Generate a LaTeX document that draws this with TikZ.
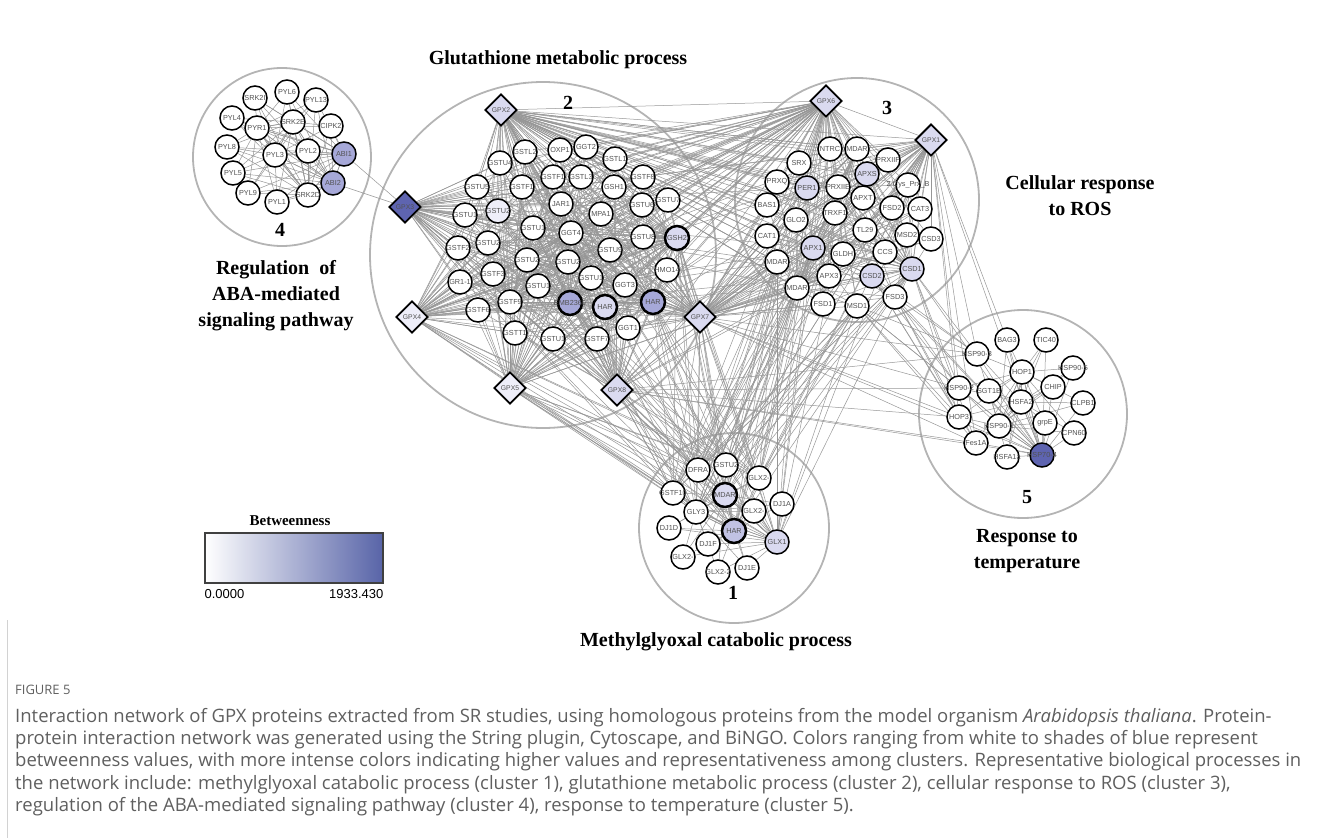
\documentclass[tikz,border=0pt]{standalone}
\usepackage{fontspec}
\setmainfont{Liberation Serif}
\newfontfamily\labelfont{Liberation Sans}
\newfontfamily\captionfont{Open Sans}
\usetikzlibrary{shapes.geometric}
\definecolor{bwdark}{RGB}{94,100,176}
\definecolor{bwmid}{RGB}{166,168,216}
\definecolor{bwlight}{RGB}{218,218,240}
\definecolor{bwpale}{RGB}{238,238,249}
\definecolor{bwbar}{RGB}{88,100,168}
\definecolor{edgegray}{RGB}{150,150,150}
\definecolor{ringgray}{RGB}{180,180,180}
\definecolor{captiongray}{RGB}{95,95,95}

\pgfdeclarelayer{bg}
\pgfsetlayers{bg,main}

% label that does not widen its circle
\newcommand{\ptext}[1]{\makebox[0pt]{#1}}

\tikzset{
  prot/.style={circle, draw=black, line width=1.5pt, fill=white, minimum size=24pt,
    inner sep=0pt, font=\labelfont\fontsize{7.3}{8}\selectfont, text=black!68},
  hub/.style={line width=2.5pt},
  gpx/.style={diamond, draw=black, line width=1.9pt, fill=white, minimum width=32pt,
    minimum height=32pt, inner sep=0pt, font=\labelfont\fontsize{6.8}{8}\selectfont, text=black!68},
  ring/.style={draw=ringgray, line width=1.8pt},
  link/.style={draw=edgegray, line width=0.5pt},
  title/.style={font=\bfseries\fontsize{20}{26}\selectfont, align=center},
  num/.style={font=\bfseries\fontsize{20}{24}\selectfont},
  capline/.style={anchor=base west, inner sep=0pt, font=\captionfont\fontsize{18.5}{22}\selectfont, text=captiongray}
}

\begin{document}
\begin{tikzpicture}[x=1pt,y=-1pt]
\useasboundingbox (0,0) rectangle (1320,838);

% Node lists per cluster
\def\cfour{srk2i,pyl6,pyl13,pyl4,pyr1,srk2e,cipk,pyl8,pyl3,pyl2,abi1,pyl5,abi2,pyl9,pyl1,srk2d}
\def\ctwo{gstl2,oxp1,ggt2,gstl1,gstu4,gstf1a,gstl3,gstf8,gstu5,gstf1b,gsh1,jar1,gstu6,gstu7,mpa1,gstu1a,gstu2a,gstu1b,ggt4,gstu8,gsh2,gstf2,gstu2b,gstu9,gstu2c,gstu2d,gr1,gstf3,hmo14,gstu1c,gstu1d,ggt3,gstf6,gstf9,emb,har1,har2,gstt1,gstu1e,gstf7,ggt1}
\def\cthree{ntrc,mdar1,srx,prxiif,prxq,per1,prxiie,apxs,cys,apxt,bas1,trxf1,fsd2,cat3,glo2,tl29,msd2,csd3,cat1,apx1,gldh,ccs,csd1,mdar2,apx3,csd2,mdar3,fsd1,msd1,fsd3}
\def\cone{dfra,gstu2e,glx2a,gstf10,mdar4,dj1a,gly3,glx2b,dj1d,ghar,glx1,dj1f,glx2c,glx2d,dj1e}
\def\cfive{bag3,tic40,hsp903,hop1,hsp905,hsp902,sgt1b,chip,hsfa2,clpb1,hop3,hsp901,grpe,cpn60,fes1a,hsfa1a,hsp70}
\def\gpxset{gpx2,gpx3,gpx4,gpx5,gpx7,gpx8}

% Cluster 4
\foreach \n/\x/\y/\t in {srk2i/255/98/SRK2I, pyl6/287/92/PYL6, pyl13/316/100/PYL13,
  pyl4/232/118/PYL4, pyr1/257/128/PYR1, srk2e/293/122/SRK2E, cipk/331/126/CIPK2,
  pyl8/227/147/PYL8, pyl3/275/155/PYL3, pyl2/308/151/PYL2, pyl5/233/173/PYL5,
  pyl9/248/193/PYL9, pyl1/277/202/PYL1, srk2d/308/195/SRK2D}
  \node[prot] (\n) at (\x,\y) {\ptext{\t}};
\node[prot, fill=bwmid] (abi1) at (344,154) {ABI1};
\node[prot, fill=bwmid] (abi2) at (333,183) {ABI2};
\node[num] (num4) at (280,230) {4};

% Cluster 2
\node[gpx, fill=bwlight] (gpx2) at (501,110) {GPX2};
\node[gpx, fill=bwdark] (gpx3) at (405,207) {GPX3};
\node[gpx, fill=bwpale] (gpx4) at (412,317) {GPX4};
\node[gpx, fill=bwlight] (gpx7) at (700,317) {GPX7};
\node[gpx, fill=bwpale] (gpx5) at (510,388) {GPX5};
\node[gpx, fill=bwlight] (gpx8) at (617,390) {GPX8};
\foreach \n/\x/\y/\t in {gstl2/525/152/GSTL2, oxp1/560/150/OXP1, ggt2/586/147/GGT2,
  gstl1/615/159/GSTL1, gstu4/500/163/GSTU4, gstf1a/553/177/GSTF1, gstl3/581/177/GSTL3,
  gstf8/643/177/GSTF8, gstu5/477/187/GSTU5, gstf1b/522/187/GSTF1, gsh1/614/187/GSH1,
  jar1/561/204/JAR1, gstu6/642/205/GSTU6, gstu7/668/200/GSTU7, mpa1/601/214/MPA1,
  gstu1a/465/215/GSTU1, gstu1b/533/228/GSTU1, ggt4/571/233/GGT4, gstu8/643/237/GSTU8,
  gstf2/458/248/GSTF2, gstu2b/488/243/GSTU2, gstu9/610/250/GSTU9, gstu2c/527/260/GSTU2,
  gstu2d/568/262/GSTU2, gr1/460/282/GR1-1, gstf3/493/274/GSTF3, hmo14/667/270/HMO14,
  gstu1c/538/286/GSTU1, gstu1d/591/278/GSTU1, ggt3/625/285/GGT3, gstf6/478/310/GSTF6,
  gstf9/510/302/GSTF9, gstt1/515/333/GSTT1, gstu1e/553/339/GSTU1, gstf7/597/339/GSTF7,
  ggt1/628/328/GGT1}
  \node[prot] (\n) at (\x,\y) {\ptext{\t}};
\node[prot, fill=bwpale] (gstu2a) at (498,211) {\ptext{GSTU2}};
\node[prot, hub, fill=bwlight] (gsh2) at (677,238) {GSH2};
\node[prot, hub, fill=bwmid] (emb) at (570,303) {\ptext{EMB2360}};
\node[prot, hub, fill=bwlight] (har1) at (605,307) {HAR};
\node[prot, hub, fill=bwmid] (har2) at (653,302) {HAR};
\node[num] (num2) at (568,103) {2};

% Cluster 3
\node[gpx, fill=bwlight] (gpx6) at (826,101) {GPX6};
\node[gpx, fill=bwlight] (gpx1) at (931,140) {GPX1};
\foreach \n/\x/\y/\t in {ntrc/830/149/NTRC, mdar1/857/149/MDAR, srx/799/163/SRX,
  prxiif/888/160/PRXIIF, prxq/777/182/PRXQ, prxiie/838/187/PRXIIE,
  cys/908/185/2-Cys\_Prx\_B, apxt/863/198/APXT, bas1/767/205/BAS1, trxf1/835/213/TRXF1,
  fsd2/892/208/FSD2, cat3/920/209/CAT3, glo2/796/220/GLO2, tl29/865/230/TL29,
  msd2/907/235/MSD2, csd3/931/239/CSD3, cat1/767/236/CAT1, gldh/843/254/GLDH,
  ccs/885/252/CCS, mdar2/777/262/MDAR, apx3/829/276/APX3, mdar3/797/288/MDAR,
  fsd1/823/304/FSD1, msd1/857/306/MSD1, fsd3/895/297/FSD3}
  \node[prot] (\n) at (\x,\y) {\ptext{\t}};
\node[prot, fill=bwlight] (per1) at (807,188) {PER1};
\node[prot, fill=bwlight] (apxs) at (867,174) {APXS};
\node[prot, fill=bwlight] (apx1) at (813,248) {APX1};
\node[prot, fill=bwlight] (csd2) at (872,276) {CSD2};
\node[prot, fill=bwlight] (csd1) at (912,269) {CSD1};
\node[num] (num3) at (887,108) {3};

% Cluster 1
\foreach \n/\x/\y/\t in {dfra/698/470/DFRA, gstu2e/726/465/GSTU2, glx2a/759/478/GLX2-,
  gstf10/673/493/GSTF10, dj1a/782/504/DJ1A, gly3/696/512/GLY3, glx2b/754/511/GLX2-,
  dj1d/669/528/DJ1D, dj1f/708/544/DJ1F, glx2c/683/557/GLX2-, glx2d/718/572/GLX2-2,
  dj1e/747/568/DJ1E}
  \node[prot] (\n) at (\x,\y) {\ptext{\t}};
\node[prot, hub, fill=bwlight] (mdar4) at (725,495) {MDAR};
\node[prot, hub, fill=bwmid!70] (ghar) at (734,531) {HAR};
\node[prot, fill=bwlight] (glx1) at (777,542) {GLX1};
\node[num] (num1) at (733,593) {1};

% Cluster 5
\foreach \n/\x/\y/\t in {bag3/1007/340/BAG3, tic40/1046/340/TIC40, hsp903/977/354/HSP90-3,
  hop1/1022/372/HOP1, hsp905/1073/368/HSP90-5, hsp902/959/388/HSP90-2,
  sgt1b/989/391/SGT1B, chip/1053/387/CHIP, hsfa2/1021/402/HSFA2, clpb1/1083/403/CLPB1,
  hop3/959/417/HOP3, hsp901/999/426/HSP90-1, grpe/1045/423/grpE, cpn60/1074/433/CPN60,
  fes1a/976/443/Fes1A, hsfa1a/1007/457/HSFA1a}
  \node[prot] (\n) at (\x,\y) {\ptext{\t}};
\node[prot, fill=bwdark] (hsp70) at (1042,455) {\ptext{HSP70-4}};
\node[num] (num5) at (1027,497) {5};

% Cluster titles
\node[title] (t2) at (558,60) {Glutathione metabolic process};
\node[title] (t3) at (1080,196) {Cellular response\\to ROS};
\node[title] (t4) at (276,296) {Regulation\ \ of\\ABA-mediated\\signaling pathway};
\node[title] (t5) at (1027,551) {Response to\\temperature};
\node[title] (t1) at (716,642) {Methylglyoxal catabolic process};

% Betweenness legend
\node[font=\bfseries\fontsize{15}{18}\selectfont] (bwtitle) at (290,521) {Betweenness};
\node[draw=black!75, line width=1.2pt, minimum width=178pt, minimum height=50pt,
  left color=white, right color=bwbar] (bwscale) at (294,558) {};
\node[anchor=north west, inner sep=0pt, font=\labelfont\fontsize{13}{15}\selectfont]
  (bwlow) at ([yshift=-6pt]bwscale.south west) {0.0000};
\node[anchor=north east, inner sep=0pt, font=\labelfont\fontsize{13}{15}\selectfont]
  (bwhigh) at ([yshift=-6pt]bwscale.south east) {1933.430};

% Caption
\draw[gray!35, line width=1pt] (7,620) -- (7,838);
\node[anchor=base west, inner sep=0pt, font=\captionfont\fontsize{13}{15}\selectfont,
  text=captiongray] (figlabel) at (15,694) {FIGURE 5};
\node[capline] (cap1) at (15,722) {Interaction network of GPX proteins extracted from SR studies, using homologous proteins from the model organism \textit{Arabidopsis thaliana}. Protein-};
\node[capline] (cap2) at ([yshift=-22.4pt]cap1.base west) {protein interaction network was generated using the String plugin, Cytoscape, and BiNGO. Colors ranging from white to shades of blue represent};
\node[capline] (cap3) at ([yshift=-22.4pt]cap2.base west) {betweenness values, with more intense colors indicating higher values and representativeness among clusters. Representative biological processes in};
\node[capline] (cap4) at ([yshift=-22.4pt]cap3.base west) {the network include: methylglyoxal catabolic process (cluster 1), glutathione metabolic process (cluster 2), cellular response to ROS (cluster 3),};
\node[capline] (cap5) at ([yshift=-22.4pt]cap4.base west) {regulation of the ABA-mediated signaling pathway (cluster 4), response to temperature (cluster 5).};

\begin{pgfonlayer}{bg}
% Cluster rings
\draw[ring] (282,157) circle (89);
\draw[ring] (543,255) circle (173);
\draw[ring] (857,200) circle (122);
\draw[ring] (734,528) circle (95);
\draw[ring] (1023,414) circle (104);

% Links inside cluster 4
\foreach \a in {abi1,abi2,srk2e,srk2d,pyl3,pyr1}
  \foreach \b in \cfour {\ifx\a\b\else\draw[link] (\a) -- (\b);\fi}
\draw[link] (gpx3) -- (abi1);
\draw[link] (gpx3) -- (abi2);

% Links inside cluster 2
\foreach \a in {gpx2,gpx3,gpx4,gpx5,gpx7,gpx8,gpx6,gsh2,har2,emb,ggt4,gstu2c,gstf9}
  \foreach \b in \ctwo {\ifx\a\b\else\draw[link] (\a) -- (\b);\fi}

% Links inside cluster 3 and to cluster 2
\foreach \a in {gpx6,gpx1,apx1,csd1,mdar3,prxiie,gpx2,gpx7}
  \foreach \b in \cthree {\ifx\a\b\else\draw[link] (\a) -- (\b);\fi}
\foreach \a in {gpx6,gpx1,mdar1,mdar2,mdar3,apx1,apx3,per1}
  \foreach \b in \gpxset \draw[link] (\a) -- (\b);
\draw[link] (gpx6) -- (gpx1);

% Links of cluster 1
\foreach \a in {gstu2e,gstf10,mdar4,ghar,glx1,dfra,glx2a,gly3}
  \foreach \b in {gpx2,gpx3,gpx4,gpx5,gpx7,gpx8,gpx6,gpx1,mdar1,mdar2,mdar3,apx1,csd1,msd1,gsh2,har2,emb}
    \draw[link] (\a) -- (\b);
\foreach \a in {ghar,mdar4,glx1,gly3}
  \foreach \b in \cone {\ifx\a\b\else\draw[link] (\a) -- (\b);\fi}

% Links of cluster 5
\foreach \a in {hsp70,hop1,hsfa2,hsp901}
  \foreach \b in \cfive {\ifx\a\b\else\draw[link] (\a) -- (\b);\fi}
\foreach \a in {csd1,fsd3,msd1,csd2,gpx1,gpx7,gpx8}
  \foreach \b in {hsp903,hsp902,hop3,fes1a,hsp70}
    \draw[link] (\a) -- (\b);
\draw[link] (gpx1) -- (bag3);
\end{pgfonlayer}
\end{tikzpicture}
\end{document}
